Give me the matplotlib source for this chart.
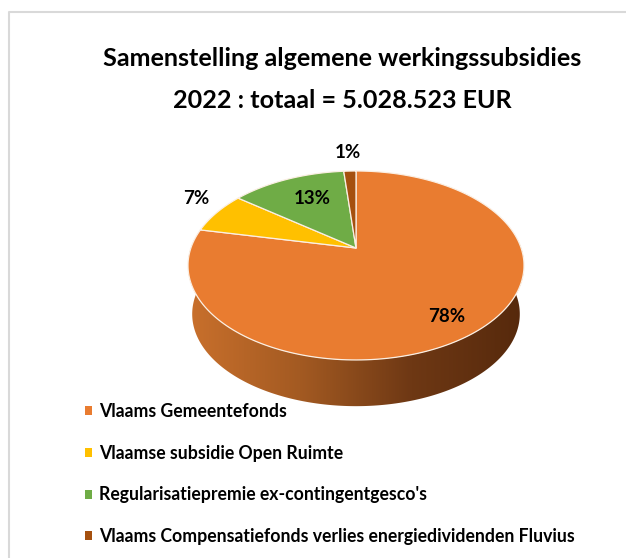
import numpy as np
import matplotlib
matplotlib.use("Agg")
import matplotlib.pyplot as plt
from matplotlib.colors import LinearSegmentedColormap
from matplotlib.patches import Patch, Polygon

categories = ["Vlaams Gemeentefonds", "Vlaamse subsidie Open Ruimte",
              "Regularisatiepremie ex-contingentgesco's",
              "Vlaams Compensatiefonds verlies energiedividenden Fluvius"]
values = [78.3, 7.1, 13.2, 1.4]
pct_labels = ["78%", "7%", "13%", "1%"]
colors = ["#E97C30", "#FFC000", "#6FAC46", "#A5500F"]
title_lines = ["Samenstelling algemene werkingssubsidies", "2022 : totaal = 5.028.523 EUR"]

plt.rcParams["font.family"] = ["Lato", "DejaVu Sans"]
plt.rcParams["font.weight"] = "bold"

# pie seen in perspective: apex sits above the centre of the ellipse
CX, CY = 356, 248
A, B, K = 165.1, 91.25, 0.185


def project(theta, r=1.0, scale=1.0, dy=0.0):
    # theta in degrees, clockwise from the top
    t = np.radians(theta)
    u, v = r*np.sin(t), r*np.cos(t)
    d = 1 + K*v
    return CX + scale*A*u/d, CY + dy - scale*B*v/d


fig = plt.figure(figsize=(6.26, 5.58), dpi=100)
ax = fig.add_axes([0, 0, 1, 1])
ax.axis("off")

# side wall of the pie, shaded left to right
th = np.linspace(60, 300, 300)
x1, y1 = project(th)
x2, y2 = project(th[::-1], scale=0.975, dy=49)
side = Polygon(np.column_stack([np.r_[x1, x2], np.r_[y1, y2]]), closed=True,
               facecolor="none", edgecolor="none")
ax.add_patch(side)
cmap = LinearSegmentedColormap.from_list("side", ["#C9702C", "#A35A22", "#6E3814", "#56290C"])
img = ax.imshow(np.linspace(0, 1, 256).reshape(1, -1), cmap=cmap, aspect="auto",
                extent=(188, 524, 410, 240), zorder=1)
img.set_clip_path(side)

# top face
start = 0.0
total = sum(values)
for val, col in zip(values, colors):
    end = start + 360*val/total
    t = np.linspace(start, end, 200)
    x, y = project(t)
    ax.fill(np.r_[CX, x], np.r_[CY, y], facecolor=col, edgecolor="#FBEFE3",
            linewidth=0.9, zorder=2, joinstyle="round")
    start = end

ax.set_xlim(0, 626)
ax.set_ylim(558, 0)

# frame of the pasted chart
ax.plot([9, 9, 626], [558, 12, 12], color="#D9D9D9", lw=1.5, zorder=0)

ax.text(342, 58, title_lines[0], ha="center", va="center", fontsize=18.1)
ax.text(342, 100, title_lines[1], ha="center", va="center", fontsize=18.1)

for lab, (px, py) in zip(pct_labels, [(447, 317), (196, 198), (312, 199), (348, 153)]):
    ax.text(px, py, lab, ha="center", va="center", fontsize=13.5, zorder=3)

handles = [Patch(facecolor=c, edgecolor="none") for c in colors]
ax.legend(handles, categories, loc="upper left", bbox_to_anchor=(85, 403),
          bbox_transform=ax.transData, frameon=False, fontsize=12.7,
          handlelength=0.42, handleheight=0.42, handletextpad=0.4,
          labelspacing=1.4, borderpad=0, borderaxespad=0)

fig.savefig("out.png", dpi=100)
